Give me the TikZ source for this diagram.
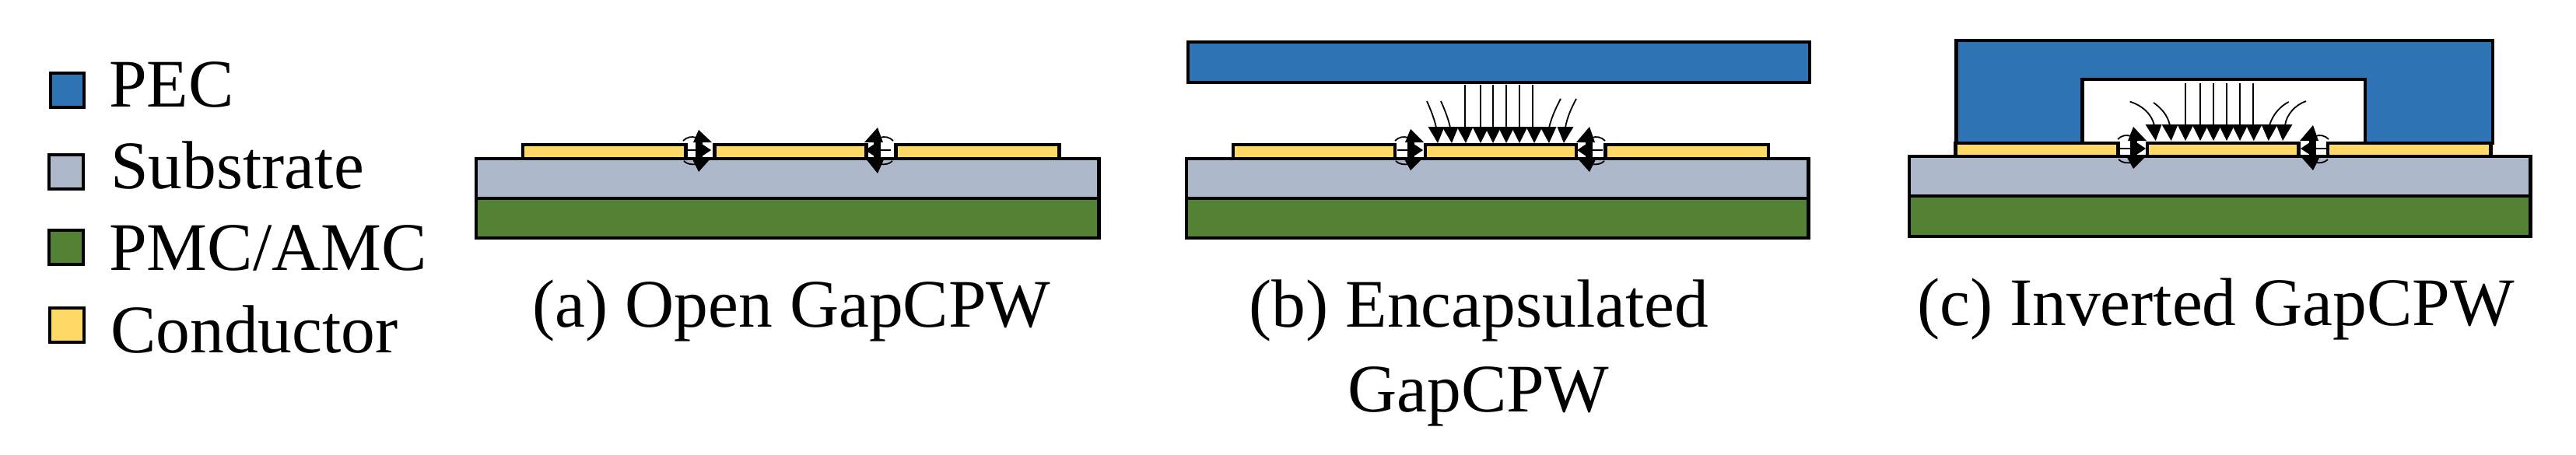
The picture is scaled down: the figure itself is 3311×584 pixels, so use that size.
\documentclass[tikz,border=0pt]{standalone}
\usepackage{fontspec}
\setmainfont{Liberation Serif}
\definecolor{pec}{HTML}{2E74B5}
\definecolor{subs}{HTML}{ADB9CA}
\definecolor{pmc}{HTML}{548235}
\definecolor{cond}{HTML}{FFD966}
\tikzset{
  solid box/.style={draw=black,line width=4.2pt,miter limit=10},
  pecbox/.style={solid box,fill=pec},
  subbox/.style={solid box,fill=subs},
  pmcbox/.style={solid box,fill=pmc},
  condbox/.style={solid box,fill=cond},
  fieldline/.style={black,line width=1.8pt},
  label text/.style={anchor=base west,inner sep=0pt,font=\fontsize{87.5}{100}\selectfont},
  caption text/.style={anchor=base,inner sep=0pt,font=\fontsize{87.5}{100}\selectfont},
}
% gap field: #1 arrow x, #2 conductor top y, #3 direction, #4 upper tip dy, #5 lower tip dy
\newcommand{\gapfield}[5]{%
  \begin{scope}[shift={(#1,#2)},xscale=#3]
    \draw[fieldline] (-20,-5) .. controls (-15,-10) and (-9,-11) .. (-3,-9);
    \draw[fieldline] (-19,21) .. controls (-15,25) and (-9,26) .. (-3,25);
    \draw[black,line width=2.5pt] (-17,7) -- (2,7);
    \fill[black] (-4,-3) rectangle (5,17);
    \fill[black] (0,#4) -- (17,-3) -- (-7,-3) -- cycle;
    \fill[black] (0,#5) -- (16,17) -- (-9,17) -- cycle;
    \fill[black] (1,-3) -- (16,7) -- (1,17) -- cycle;
  \end{scope}}
% row of downward arrowheads: #1 base y, #2 list base/tip
\newcommand{\headrow}[2]{%
  \foreach \bx/\tx in {#2}{%
    \fill[black] ({\bx-10.5},#1) -- ({\bx+10.5},#1) -- (\tx,#1+21) -- cycle;}}
\begin{document}
\begin{tikzpicture}[x=1pt,y=-1pt]
\useasboundingbox (0,0) rectangle (3311,584);
% legend
\draw[pecbox]  (65,94) rectangle (108,138);
\draw[subbox]  (63,199) rectangle (107,243);
\draw[pmcbox]  (63,296) rectangle (107,340);
\draw[condbox] (64,396) rectangle (108,440);
\node[label text] (lpec) at (140,137) {PEC};
\node[label text] (lsub) at (142,242) {Substrate};
\node[label text] (lpmc) at (140,347) {PMC/AMC};
\node[label text] (lcon) at (142,453) {Conductor};
% panel a
\draw[condbox] (672,204) -- (672,186) -- (881.5,186) -- (881.5,204);
\draw[condbox] (918.5,204) -- (918.5,186) -- (1113.5,186) -- (1113.5,204);
\draw[condbox] (1151.5,204) -- (1151.5,186) -- (1361.5,186) -- (1361.5,204);
\draw[pmcbox] (612,255) rectangle (1412.5,306);
\draw[subbox] (612,204) rectangle (1412.5,255);
\gapfield{898}{186}{1}{-19}{35}
\gapfield{1128}{186}{-1}{-22}{37}
% panel b
\draw[pecbox] (1527,54) rectangle (2326,106);
\draw[condbox] (1585,204) -- (1585,186) -- (1793,186) -- (1793,204);
\draw[condbox] (1832,204) -- (1832,186) -- (2026,186) -- (2026,204);
\draw[condbox] (2063.5,204) -- (2063.5,186) -- (2273,186) -- (2273,204);
\draw[pmcbox] (1525,255) rectangle (2324.5,306);
\draw[subbox] (1525,204) rectangle (2324.5,255);
\foreach \vx in {1882.7,1902.7,1919,1936,1952.7,1970}{\draw[fieldline] (\vx,109) -- (\vx,164);}
\draw[fieldline] (1834,130) .. controls (1841,146) and (1844,155) .. (1846,164);
\draw[fieldline] (1852,130) .. controls (1859,146) and (1862,155) .. (1864,164);
\draw[fieldline] (2006,127) .. controls (1999,140) and (1994,152) .. (1991,164);
\draw[fieldline] (2026,127) .. controls (2019,140) and (2014,152) .. (2012,164);
\headrow{163}{1846/1848,1864/1866,1883/1884,1903/1903,1919/1919,1936/1936,1953/1953,1972/1972,1990/1991,2012/2010}
\gapfield{1813}{186}{1}{-20}{33}
\gapfield{2043}{186}{-1}{-23}{35}
% panel c
\draw[pecbox] (2514.5,52) -- (3204,52) -- (3204,184) -- (3040,184) -- (3040,102) -- (2676.5,102) -- (2676.5,184) -- (2514.5,184) -- cycle;
\draw[condbox] (2513.5,201) -- (2513.5,184) -- (2722.5,184) -- (2722.5,201);
\draw[condbox] (2760,201) -- (2760,184) -- (2954.5,184) -- (2954.5,201);
\draw[condbox] (2992,201) -- (2992,184) -- (3201.5,184) -- (3201.5,201);
\draw[pmcbox] (2454,252) rectangle (3252.5,304);
\draw[subbox] (2454,201) rectangle (3252.5,252);
\foreach \vx in {2809.3,2828.3,2845,2862,2879,2896.3}{\draw[fieldline] (\vx,107) -- (\vx,161);}
\draw[fieldline] (2737.7,130.7) .. controls (2754,136) and (2765,146) .. (2769,161);
\draw[fieldline] (2768,132) .. controls (2778,139) and (2786,148) .. (2789,161);
\draw[fieldline] (2941.7,131) .. controls (2930,137) and (2921,148) .. (2917,161);
\draw[fieldline] (2964,130) .. controls (2950,135) and (2939,147) .. (2937,161);
\headrow{160}{2768/2770.7,2789/2790.7,2809/2809,2828/2828,2845/2845,2862/2862,2879/2879,2897/2896.7,2917/2915.7,2936/2934}
\gapfield{2742}{184}{1}{-21}{33}
\gapfield{2973}{184}{-1}{-23}{35}
% captions
\node[caption text] (capa) at (1017.5,420) {(a) Open GapCPW};
\node[caption text] (capb1) at (1901,420) {(b) Encapsulated};
\node[caption text] (capb2) at (1900,529) {GapCPW};
\node[caption text] (capc) at (2848,418) {(c) Inverted GapCPW};
\end{tikzpicture}
\end{document}
